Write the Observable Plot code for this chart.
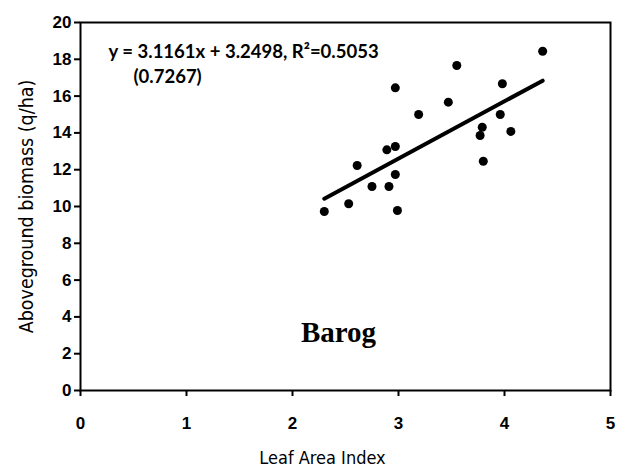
<!DOCTYPE html>
<html>
<head>
<meta charset="utf-8">
<script src="https://cdn.jsdelivr.net/npm/d3@7"></script>
<script src="https://cdn.jsdelivr.net/npm/@observablehq/plot@0.6"></script>
<style>
  html, body { margin: 0; padding: 0; background: #fff; }
</style>
</head>
<body>
<div id="chart"></div>
<script>
// Leaf Area Index (x) vs Aboveground biomass q/ha (y)
const lai     = [4.36, 3.55, 3.98, 2.97, 3.47, 3.19, 3.96, 3.79, 3.77, 4.06, 2.97, 2.89, 2.61, 3.80, 2.97, 2.75, 2.91, 2.53, 2.30, 2.99];
const biomass = [18.44, 17.66, 16.67, 16.45, 15.67, 15.00, 15.00, 14.31, 13.86, 14.08, 13.26, 13.08, 12.23, 12.46, 11.74, 11.09, 11.09, 10.15, 9.73, 9.78];

// Regression line endpoints as drawn
const fitX = [2.30, 4.36];
const fitY = [10.42, 16.84];

const xTicks = [0, 1, 2, 3, 4, 5];
const yTicks = [0, 2, 4, 6, 8, 10, 12, 14, 16, 18, 20];

const equation = "y = 3.1161x + 3.2498, R²=0.5053";
const stdErr = "(0.7267)";
const siteName = "Barog";
const xTitle = "Leaf Area Index";
const yTitle = "Aboveground biomass (q/ha)";

const points = lai.map((x, i) => ({x, y: biomass[i]}));
const fit = fitX.map((x, i) => ({x, y: fitY[i]}));

const sans = "'Liberation Sans', Arial, sans-serif";
const narrow = "'DejaVu Sans Condensed', 'DejaVu Sans', sans-serif";
const eqFont = "Lato, 'Open Sans', sans-serif";

const chart = Plot.plot({
  width: 618,
  height: 470,
  marginLeft: 80,
  marginRight: 8,
  marginTop: 22,
  marginBottom: 80,
  style: {background: "#fff", color: "#000", fontFamily: sans},
  x: {domain: [0, 5]},
  y: {domain: [0, 20]},
  marks: [
    Plot.frame({stroke: "#000", strokeWidth: 2}),
    Plot.axisX({ticks: xTicks, tickFormat: d3.format("d"), tickSize: 6, tickPadding: 20, fontSize: 17, fontWeight: "bold", strokeWidth: 2, label: null}),
    Plot.axisY({ticks: yTicks, tickFormat: d3.format("d"), tickSize: 6, tickPadding: 3, fontSize: 17, fontWeight: "bold", strokeWidth: 2, label: null}),
    Plot.line(fit, {x: "x", y: "y", stroke: "#000", strokeWidth: 4, strokeLinecap: "round"}),
    Plot.dot(points, {x: "x", y: "y", r: 4.5, fill: "#000", stroke: null}),
    Plot.text([equation], {frameAnchor: "top-left", dx: 28, dy: 30, textAnchor: "start", lineAnchor: "middle", fontSize: 18.5, fontWeight: "bold", fontFamily: eqFont}),
    Plot.text([stdErr], {frameAnchor: "top-left", dx: 53, dy: 55, textAnchor: "start", lineAnchor: "middle", fontSize: 18.5, fontWeight: "bold", fontFamily: eqFont}),
    Plot.text([siteName], {frameAnchor: "top-left", dx: 258, dy: 310, textAnchor: "middle", lineAnchor: "middle", fontSize: 29, fontWeight: "bold", fontFamily: "'Liberation Serif', serif"}),
    Plot.text([xTitle], {frameAnchor: "bottom", dx: -23, dy: 68, textAnchor: "middle", lineAnchor: "middle", fontSize: 18, fontFamily: narrow, fontStretch: "condensed"}),
    Plot.text([yTitle], {frameAnchor: "left", dx: -54, rotate: -90, textAnchor: "middle", lineAnchor: "middle", fontSize: 19.5, fontFamily: narrow, fontStretch: "condensed"})
  ]
});

document.getElementById("chart").appendChild(chart);
</script>
</body>
</html>
